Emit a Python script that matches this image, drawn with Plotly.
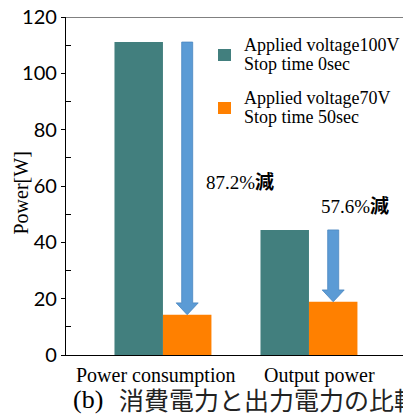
import plotly.graph_objects as go

categories = ["Power consumption", "Output power"]
x_pos = [0, 1]
series_names = ["Applied voltage100V<br>Stop time 0sec", "Applied voltage70V<br>Stop time 50sec"]
before = [111.1, 44.4]
after = [14.3, 18.9]
reduction_labels = ["87.2%減", "57.6%減"]
y_ticks = [0, 20, 40, 60, 80, 100, 120]

TEAL = "#427F7E"
ORANGE = "#FF8000"
COLORS = [TEAL, ORANGE]
ARROW_FILL = "#5B9BD5"
ARROW_LINE = "#4A86C0"
SERIF = "Liberation Serif, Times New Roman, serif"
CJK = "Noto Sans CJK JP"

BAR_W = 0.332
L, T, PW, PH = 66, 17, 337, 338  # plot area in pixels


def px_x(px):
    return (px - L) / PW


def px_y(py):
    return (T + PH - py) / PH


fig = go.Figure()
fig.add_trace(go.Bar(x=x_pos, y=before, name=series_names[0], showlegend=False,
                     marker=dict(color=TEAL, line=dict(width=0))))
fig.add_trace(go.Bar(x=x_pos, y=after, name=series_names[1], showlegend=False,
                     marker=dict(color=ORANGE, line=dict(width=0))))

# arrows from the "before" value down to the "after" value, over the second bar
shaft_hw = 0.0377
head_hw = 0.0755
head_len = 4.2
for xc0, b, a in zip(x_pos, before, after):
    xc = xc0 + BAR_W / 2
    hy = a + head_len
    path = (f"M {xc-shaft_hw},{b} L {xc+shaft_hw},{b} L {xc+shaft_hw},{hy} "
            f"L {xc+head_hw},{hy} L {xc},{a} L {xc-head_hw},{hy} L {xc-shaft_hw},{hy} Z")
    fig.add_shape(type="path", path=path, xref="x", yref="y",
                  fillcolor=ARROW_FILL, line=dict(color=ARROW_LINE, width=0.8), layer="above")

# reduction labels
label_pos = [(0.528, 61.8), (1.312, 53.4)]
for (lx, ly), txt in zip(label_pos, reduction_labels):
    num, kanji = txt[:-1], txt[-1]
    fig.add_annotation(x=lx, y=ly, xref="x", yref="y", showarrow=False,
                       text=f"{num}<span style='font-family:{CJK};font-weight:bold'>{kanji}</span>",
                       font=dict(family=SERIF, size=19, color="black"))

# top border line at 120
fig.add_shape(type="line", xref="paper", yref="y", x0=0, x1=1, y0=120, y1=120,
              line=dict(color="#808080", width=2))

# legend (drawn manually for exact line spacing)
sq_top = [49, 102]
line_y = [(45, 64), (98, 117)]
for name, color, st, (y1, y2) in zip(series_names, COLORS, sq_top, line_y):
    fig.add_shape(type="rect", xref="paper", yref="paper",
                  x0=px_x(218), x1=px_x(231), y0=px_y(st), y1=px_y(st + 12),
                  fillcolor=color, line=dict(width=0))
    for ln, yy in zip(name.split("<br>"), (y1, y2)):
        fig.add_annotation(x=px_x(242), y=px_y(yy), xref="paper", yref="paper",
                           showarrow=False, text=ln, xanchor="left", yanchor="middle",
                           font=dict(family=SERIF, size=18, color="black"))

# category labels
cat_label_x = [-0.054, 1.069]
for cx, c in zip(cat_label_x, categories):
    fig.add_annotation(x=cx, y=px_y(375), xref="x", yref="paper", showarrow=False,
                       text=c, font=dict(family=SERIF, size=20, color="black"),
                       xanchor="center", yanchor="middle")

# y-axis title
fig.add_annotation(x=px_x(20), y=px_y(193.5), xref="paper", yref="paper", showarrow=False,
                   text="Power[W]", textangle=-90,
                   font=dict(family=SERIF, size=20, color="black"),
                   xanchor="center", yanchor="middle")

# caption
fig.add_annotation(x=px_x(71), y=px_y(399), xref="paper", yref="paper", showarrow=False,
                   text="(b)", font=dict(family=SERIF, size=26, color="black"),
                   xanchor="left", yanchor="middle")
fig.add_annotation(x=px_x(117), y=px_y(399), xref="paper", yref="paper", showarrow=False,
                   text="消費電力と出力電力の比較", font=dict(family=CJK, size=25, color="#222222"),
                   xanchor="left", yanchor="middle")

fig.update_layout(
    width=403, height=414,
    margin=dict(l=L, r=403 - L - PW, t=T, b=414 - T - PH, pad=0, autoexpand=False),
    paper_bgcolor="white", plot_bgcolor="white",
    barmode="group", bargap=1 - 2 * BAR_W, bargroupgap=0,
    showlegend=False,
    xaxis=dict(range=[-0.664, 1.644], showline=True, linecolor="black", linewidth=1.3,
               showticklabels=False, ticks="", showgrid=False, zeroline=False,
               layer="below traces"),
    yaxis=dict(range=[0, 120], tickvals=y_ticks, ticks="outside", ticklen=4,
               tickcolor="black", showline=True, linecolor="black", linewidth=1.3,
               showgrid=False, zeroline=False, automargin=False,
               tickfont=dict(family="Lato", size=20, color="black"),
               minor=dict(ticks="inside", ticklen=5, tickvals=[10, 30, 50, 70, 90, 110],
                          tickcolor="black", showgrid=False)),
)

fig.write_html("out.html", config={"displayModeBar": False},
               post_script="document.body.style.margin='0';document.body.style.padding='0';")
